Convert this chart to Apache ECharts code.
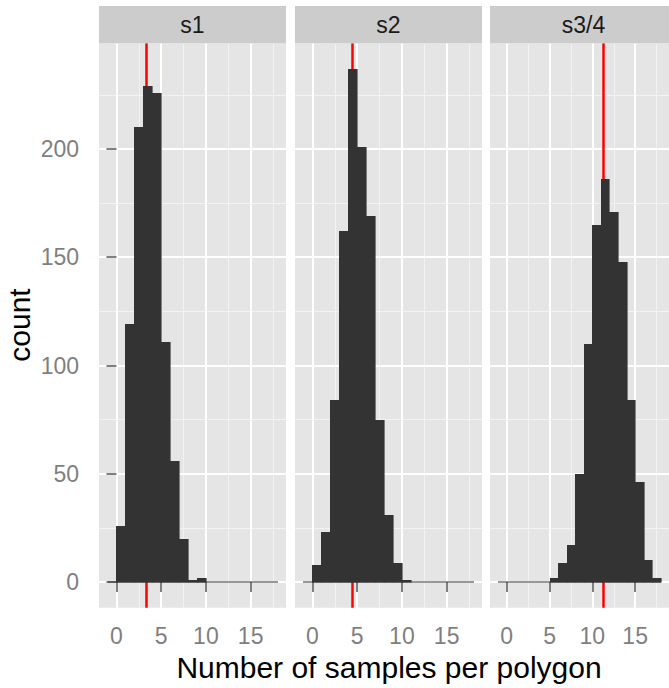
<!DOCTYPE html>
<html><head><meta charset="utf-8">
<script src="https://cdn.jsdelivr.net/npm/echarts@6/dist/echarts.min.js"></script>
<style>html,body{margin:0;padding:0;background:#fff}#c{width:669px;height:688px}</style>
</head><body><div id="c"></div>
<script>
// ---- data ----
const panelNames = ['s1', 's2', 's3/4'];
const binStarts = [-1, 0, 1, 2, 3, 4, 5, 6, 7, 8, 9, 10, 11, 12, 13, 14, 15, 16, 17];
const countsS1 = [0, 26, 119, 210, 229, 226, 111, 56, 20, 1, 2, 0, 0, 0, 0, 0, 0, 0, 0];
const countsS2 = [0, 8, 23, 84, 162, 237, 201, 169, 75, 31, 9, 1, 0, 0, 0, 0, 0, 0, 0];
const countsS3 = [0, 0, 0, 0, 0, 0, 2, 9, 17, 50, 110, 165, 186, 171, 148, 84, 46, 10, 2];
const panelMeans = [3.3, 4.45, 11.28];
const xTickValues = [0, 5, 10, 15];
const xMinorValues = [2.5, 7.5, 12.5, 17.5];
const yTickValues = [0, 50, 100, 150, 200];
const yMinorValues = [25, 75, 125, 175, 225];
const binWidth = 1;
const xLimits = [-1.95, 18.95];
const yLimits = [-11.85, 248.85];
const xTitle = 'Number of samples per polygon';
const yTitle = 'count';

// ---- layout / style ----
const FONT = '"Liberation Sans", Arial, Helvetica, sans-serif';
const allCounts = [countsS1, countsS2, countsS3];
const panelLeft = [99, 295, 490];
const panelTop = 43.2, panelW = 187, panelH = 564.5;
const stripTop = 6, stripH = 37.2;

const grids = [], xAxes = [], yAxes = [], series = [], graphics = [];
panelNames.forEach((name, i) => {
  grids.push({left: panelLeft[i], top: panelTop, width: panelW, height: panelH,
    show: true, backgroundColor: '#e5e5e5', borderWidth: 0, containLabel: false});
  // major x
  xAxes.push({gridIndex: i, type: 'value', min: xLimits[0], max: xLimits[1],
    axisLine: {show: false},
    axisTick: {show: true, length: 10, customValues: xTickValues, lineStyle: {color: '#7f7f7f', width: 2}},
    axisLabel: {show: true, customValues: xTickValues, color: '#7f7f7f', fontSize: 23, margin: 17, fontFamily: FONT},
    splitLine: {show: true, lineStyle: {color: '#ffffff', width: 2}}, z: 1});
  // minor x
  xAxes.push({gridIndex: i, type: 'value', min: xLimits[0], max: xLimits[1],
    axisLine: {show: false},
    axisTick: {show: false, customValues: xMinorValues},
    axisLabel: {show: false, customValues: xMinorValues},
    splitLine: {show: true, lineStyle: {color: '#f2f2f2', width: 1}}, z: 0});
  // major y
  yAxes.push({gridIndex: i, type: 'value', min: yLimits[0], max: yLimits[1],
    axisLine: {show: false},
    axisTick: {show: i === 0, length: 10, customValues: yTickValues, lineStyle: {color: '#7f7f7f', width: 2}},
    axisLabel: {show: i === 0, customValues: yTickValues, color: '#7f7f7f', fontSize: 23, margin: 20, fontFamily: FONT},
    splitLine: {show: true, lineStyle: {color: '#ffffff', width: 2}}, z: 1});
  // minor y
  yAxes.push({gridIndex: i, type: 'value', min: yLimits[0], max: yLimits[1],
    axisLine: {show: false},
    axisTick: {show: false, customValues: yMinorValues},
    axisLabel: {show: false, customValues: yMinorValues},
    splitLine: {show: true, lineStyle: {color: '#f2f2f2', width: 1}}, z: 0});

  const data = binStarts.map((b, k) => [b, allCounts[i][k]]);
  series.push({type: 'custom', xAxisIndex: 2 * i, yAxisIndex: 2 * i, data: data, z: 5,
    clip: true, silent: true,
    renderItem: function (params, api) {
      const x0 = api.value(0), c = api.value(1);
      const pTop = api.coord([x0, c]);
      const pBot = api.coord([x0 + binWidth, 0]);
      const xl = Math.round(pTop[0]), xr = Math.round(pBot[0]);
      const yt = Math.round(pTop[1]), yb = Math.round(pBot[1]);
      const children = [{type: 'line', shape: {x1: xl, y1: yb, x2: xr, y2: yb},
        style: {stroke: '#333333', lineWidth: 1.2}}];
      if (c > 0) {
        children.push({type: 'rect', shape: {x: xl, y: yt, width: xr - xl + 0.6, height: yb - yt + 0.5},
          style: {fill: '#333333'}});
      }
      return {type: 'group', children: children};
    }});
  series.push({type: 'line', xAxisIndex: 2 * i, yAxisIndex: 2 * i, data: [], z: 6, silent: true,
    markLine: {silent: true, symbol: 'none', animation: false, label: {show: false},
      lineStyle: {color: '#ff0000', width: 2.5, type: 'solid'},
      data: [{xAxis: panelMeans[i]}]}});

  graphics.push({type: 'rect', left: panelLeft[i], top: stripTop,
    shape: {width: panelW, height: stripH}, style: {fill: '#cccccc'}, z: 10});
  graphics.push({type: 'text', x: panelLeft[i] + panelW / 2, y: stripTop + stripH / 2 + 0.5, z: 11,
    style: {text: name, fill: '#1a1a1a', font: '23px ' + FONT, textAlign: 'center', textVerticalAlign: 'middle'}});
});

graphics.push({type: 'text', x: 389, y: 667, z: 11,
  style: {text: xTitle, fill: '#000000', font: '30px ' + FONT, textAlign: 'center', textVerticalAlign: 'middle'}});
graphics.push({type: 'text', x: 19, y: 325, rotation: Math.PI / 2, z: 11,
  style: {text: yTitle, fill: '#000000', font: '30px ' + FONT, textAlign: 'center', textVerticalAlign: 'middle'}});

const chart = echarts.init(document.getElementById('c'), null, {renderer: 'svg'});
chart.setOption({
  animation: false,
  backgroundColor: '#ffffff',
  grid: grids, xAxis: xAxes, yAxis: yAxes, series: series, graphic: graphics
});
</script>
</body></html>
